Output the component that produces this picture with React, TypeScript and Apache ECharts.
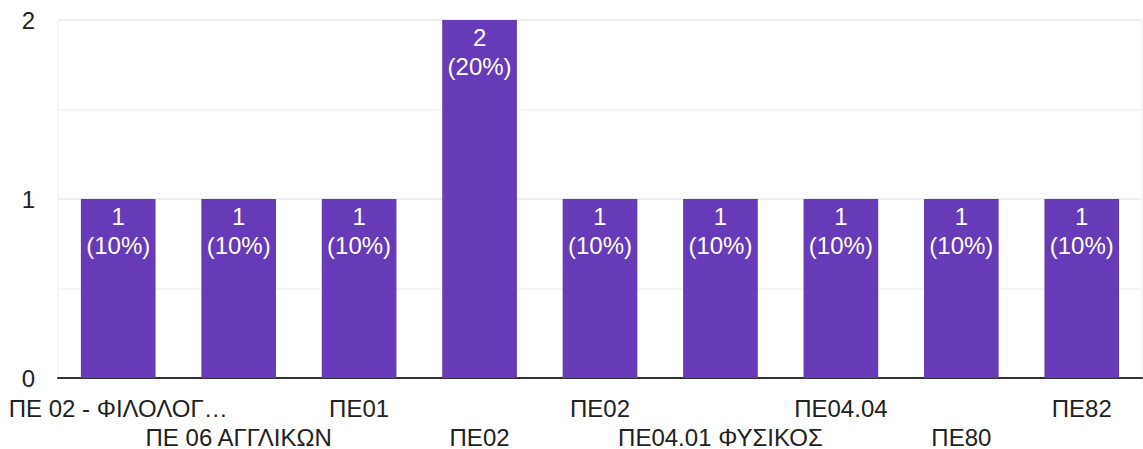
import React, { useEffect, useRef } from "react";
import * as echarts from "echarts";

const categories = [
  "ΠΕ 02 - ΦΙΛΟΛΟΓ…",
  "ΠΕ 06 ΑΓΓΛΙΚΩΝ",
  "ΠΕ01",
  "ΠΕ02",
  "ΠΕ02",
  "ΠΕ04.01 ΦΥΣΙΚΟΣ",
  "ΠΕ04.04",
  "ΠΕ80",
  "ΠΕ82",
];
const counts = [1, 1, 1, 2, 1, 1, 1, 1, 1];
const yTicks = [0, 1, 2];

const FONT = "'Liberation Sans', Arial, sans-serif";

export default function App() {
  const ref = useRef<HTMLDivElement>(null);
  useEffect(() => {
    document.body.style.margin = "0";
    if (!ref.current) return;
    const chart = echarts.init(ref.current, undefined, { renderer: "svg" });
    const total = counts.reduce((a, b) => a + b, 0);
    chart.setOption({
      animation: false,
      textStyle: { fontFamily: FONT },
      grid: {
        left: 58,
        right: 1,
        top: 20,
        bottom: 71,
        outerBoundsMode: "none",
        containLabel: false,
        show: true,
        borderColor: "#eeeeee",
        borderWidth: 1,
        backgroundColor: "transparent",
      },
      xAxis: {
        type: "category",
        data: categories,
        axisLine: { show: true, lineStyle: { color: "#333333", width: 2 } },
        axisTick: { show: false },
        axisLabel: {
          interval: 0,
          margin: 19,
          fontSize: 24,
          lineHeight: 22,
          color: "#222222",
          fontFamily: FONT,
          verticalAlign: "top",
          formatter: (v: string, i: number) =>
            i % 2 === 1 ? "{gap| }\n{a|" + v + "}" : "{a|" + v + "}",
          rich: {
            a: {
              fontSize: 24,
              lineHeight: 22,
              color: "#222222",
              fontFamily: FONT,
            },
            gap: { fontSize: 10, lineHeight: 29 },
          },
        },
      },
      yAxis: {
        type: "value",
        min: 0,
        max: 2,
        interval: 0.5,
        axisLine: { show: false },
        axisTick: { show: false },
        axisLabel: {
          margin: 23,
          fontSize: 24,
          color: "#222222",
          fontFamily: FONT,
          formatter: (v: number) => (yTicks.includes(v) ? String(v) : ""),
        },
        splitLine: {
          show: true,
          lineStyle: { color: ["#eeeeee", "#f5f5f5"], width: 2 },
        },
      },
      series: [
        {
          type: "bar",
          data: counts,
          barWidth: "62%",
          itemStyle: { color: "#673ab7" },
          label: {
            show: true,
            position: "insideTop",
            distance: 3,
            color: "#ffffff",
            fontSize: 24,
            lineHeight: 29,
            fontFamily: FONT,
            formatter: (p: any) =>
              `${p.value}\n(${Math.round((p.value / total) * 100)}%)`,
          },
        },
      ],
    });
    return () => chart.dispose();
  }, []);
  return <div ref={ref} style={{ width: 1143, height: 449 }} />;
}
